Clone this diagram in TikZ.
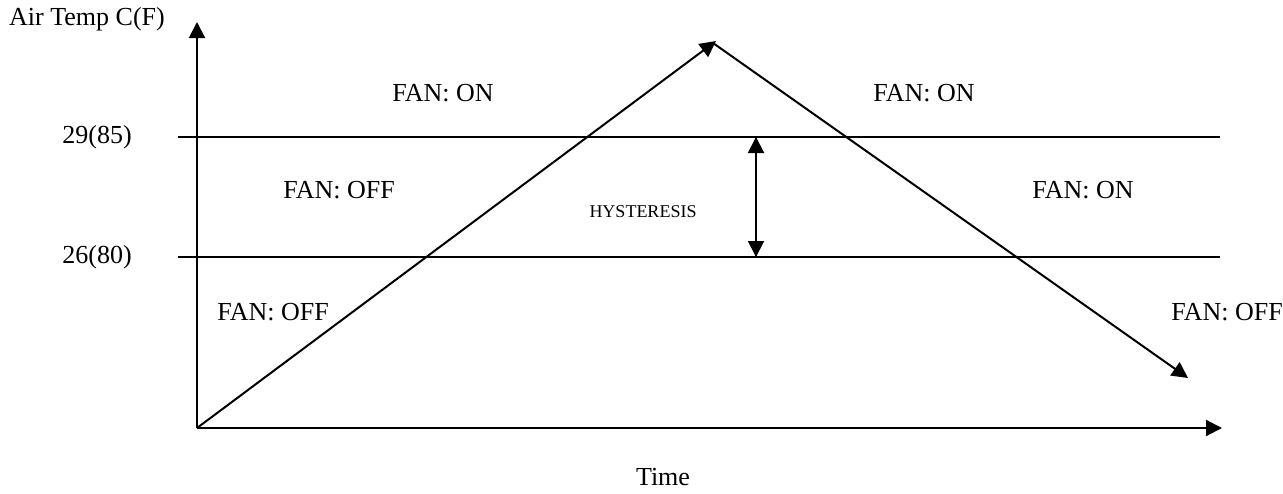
\documentclass[tikz,border=0pt]{standalone}
\usepackage{fontspec}
\setmainfont{Liberation Serif}
\usetikzlibrary{arrows.meta}
\tikzset{
  tip/.style={-{Triangle[length=8pt,width=8pt]}},
  lbl/.style={font=\fontsize{13}{15}\selectfont, inner sep=0pt},
  small/.style={font=\fontsize{9}{11}\selectfont, inner sep=0pt}
}
\begin{document}
\begin{tikzpicture}[x=0.5pt,y=-0.5pt,line width=1pt]
    \useasboundingbox (0,0) rectangle (1283,493);
    % axes
    \coordinate (o) at (197,428);
    \coordinate (ytop) at (197,22);
    \coordinate (xend) at (1222,428);
    \draw[tip] (o) -- (ytop);
    \draw[tip] (o) -- (xend);
    % thresholds
    \coordinate (hiL) at (178,137);
    \coordinate (hiR) at (1220,137);
    \coordinate (loL) at (178,257);
    \coordinate (loR) at (1220,257);
    \draw (hiL) -- (hiR);
    \draw (loL) -- (loR);
    % temperature ramp
    \coordinate (peak) at (716,41);
    \coordinate (fin) at (1188,378);
    \draw[tip] (o) -- (peak);
    \draw[tip] (713,43) -- (fin);
    % hysteresis
    \coordinate (hysT) at (756,137);
    \coordinate (hysB) at (756,257);
    \draw[tip] (hysB) -- (hysT);
    \draw[tip] (hysT) -- (hysB);
    % labels
    \node[lbl] (ylab) at (87,19) {Air Temp C(F)};
    \node[lbl] (hi) at (97,137) {29(85)};
    \node[lbl] (lo) at (97,257) {26(80)};
    \node[lbl] (on1) at (443,93) {FAN: ON};
    \node[lbl] (on2) at (924,93) {FAN: ON};
    \node[lbl] (off1) at (339,190) {FAN: OFF};
    \node[lbl] (on3) at (1083,190) {FAN: ON};
    \node[small] (hys) at (643,212) {HYSTERESIS};
    \node[lbl] (off2) at (273,312) {FAN: OFF};
    \node[lbl] (off3) at (1227,312) {FAN: OFF};
    \node[lbl] (xlab) at (663,477) {Time};
\end{tikzpicture}
\end{document}
